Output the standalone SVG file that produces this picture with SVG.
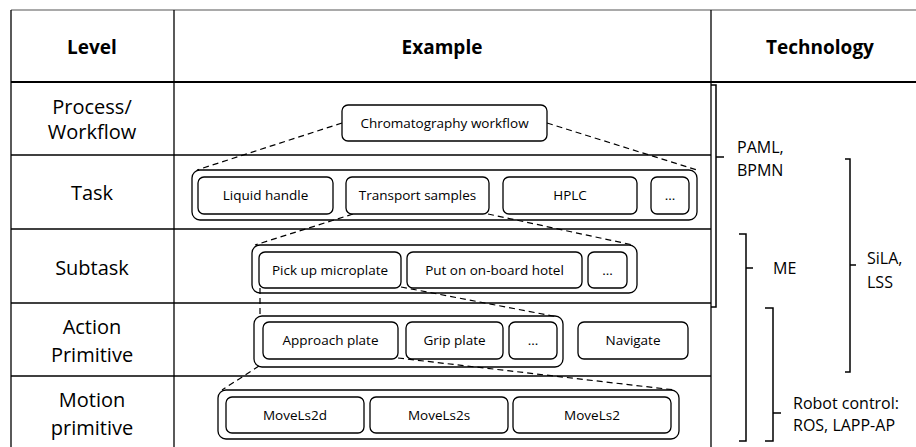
<svg xmlns="http://www.w3.org/2000/svg" width="916" height="447" viewBox="0 0 916 447">
<style>
  .grid { stroke: #000; stroke-width: 1.3; fill: none; }
  .box { fill: #fff; stroke: #000; stroke-width: 1.3; }
  .outer { fill: none; stroke: #000; stroke-width: 1.3; }
  .dash { stroke: #000; stroke-width: 1.2; stroke-dasharray: 6 4; fill: none; }
  .brace { stroke: #000; stroke-width: 1.5; fill: none; }
  .hdr { font-family: "Open Sans", "Liberation Sans", sans-serif; font-weight: bold; font-size: 19px; text-anchor: middle; fill: #000; }
  .lvl { font-family: "Open Sans", "Liberation Sans", sans-serif; font-size: 20px; text-anchor: middle; fill: #000; }
  .bt { font-family: "Open Sans", "Liberation Sans", sans-serif; font-size: 13.5px; text-anchor: middle; fill: #000; }
  .tech { font-family: "Open Sans", "Liberation Sans", sans-serif; font-size: 16px; fill: #000; }
</style>
<rect width="916" height="447" fill="#fff"/>
<g id="table">
  <line x1="11" y1="10" x2="916" y2="10" stroke="#555" stroke-width="1.2"/>
  <line class="grid" x1="11" y1="10" x2="11" y2="447"/>
  <line class="grid" x1="174" y1="10" x2="174" y2="447"/>
  <line class="grid" x1="711" y1="10" x2="711" y2="447"/>
  <line x1="11" y1="82" x2="916" y2="82" stroke="#000" stroke-width="2.2"/>
  <line class="grid" x1="11" y1="155" x2="711" y2="155"/>
  <line class="grid" x1="11" y1="229" x2="711" y2="229"/>
  <line class="grid" x1="11" y1="303" x2="711" y2="303"/>
  <line class="grid" x1="11" y1="376" x2="711" y2="376"/>
  <text class="hdr" x="92" y="54">Level</text>
  <text class="hdr" x="442" y="54">Example</text>
  <text class="hdr" x="820" y="54">Technology</text>
  <text class="lvl" x="92" y="114">Process/</text>
  <text class="lvl" x="92" y="139">Workflow</text>
  <text class="lvl" x="92" y="200">Task</text>
  <text class="lvl" x="92" y="275">Subtask</text>
  <text class="lvl" x="92" y="334">Action</text>
  <text class="lvl" x="92" y="362">Primitive</text>
  <text class="lvl" x="92" y="407">Motion</text>
  <text class="lvl" x="92" y="435">primitive</text>
</g>
<g id="connectors">
  <line class="dash" x1="342" y1="123" x2="197" y2="170"/>
  <line class="dash" x1="547" y1="123" x2="697" y2="170"/>
  <line class="dash" x1="353" y1="214" x2="255" y2="245"/>
  <line class="dash" x1="488" y1="214" x2="633" y2="245"/>
  <line class="dash" x1="260" y1="288" x2="260" y2="316"/>
  <line class="dash" x1="401" y1="287" x2="558" y2="317"/>
  <line class="dash" x1="259" y1="366" x2="222" y2="390"/>
  <line class="dash" x1="398" y1="358" x2="675" y2="390"/>
</g>
<g id="chromatography-workflow">
  <rect class="box" x="342" y="105" width="205" height="36" rx="6"/>
  <text class="bt" x="444.5" y="128">Chromatography workflow</text>
</g>
<g id="task-group">
  <rect class="outer" x="192" y="170" width="505" height="50" rx="8"/>
</g>
<g id="liquid-handle">
  <rect class="box" x="198" y="177" width="135" height="37" rx="6"/>
  <text class="bt" x="265.5" y="200">Liquid handle</text>
</g>
<g id="transport-samples">
  <rect class="box" x="346" y="177" width="143" height="37" rx="6"/>
  <text class="bt" x="417.5" y="200">Transport samples</text>
</g>
<g id="hplc">
  <rect class="box" x="503" y="177" width="134" height="37" rx="6"/>
  <text class="bt" x="570" y="200">HPLC</text>
</g>
<g id="task-more">
  <rect class="box" x="651" y="177" width="38" height="37" rx="6"/>
  <text class="bt" x="670" y="200">...</text>
</g>
<g id="subtask-group">
  <rect class="outer" x="252" y="245" width="385" height="48" rx="8"/>
</g>
<g id="pick-up-microplate">
  <rect class="box" x="259" y="252" width="142" height="36" rx="6"/>
  <text class="bt" x="330" y="275">Pick up microplate</text>
</g>
<g id="put-on-hotel">
  <rect class="box" x="407" y="252" width="175" height="36" rx="6"/>
  <text class="bt" x="494.5" y="275">Put on on-board hotel</text>
</g>
<g id="subtask-more">
  <rect class="box" x="588" y="252" width="39" height="36" rx="6"/>
  <text class="bt" x="607.5" y="275">...</text>
</g>
<g id="action-group">
  <rect class="outer" x="254" y="316" width="309" height="51" rx="8"/>
</g>
<g id="approach-plate">
  <rect class="box" x="263" y="322" width="135" height="37" rx="6"/>
  <text class="bt" x="330.5" y="345">Approach plate</text>
</g>
<g id="grip-plate">
  <rect class="box" x="406" y="322" width="97" height="37" rx="6"/>
  <text class="bt" x="454.5" y="345">Grip plate</text>
</g>
<g id="action-more">
  <rect class="box" x="509" y="322" width="48" height="37" rx="6"/>
  <text class="bt" x="533" y="345">...</text>
</g>
<g id="navigate">
  <rect class="box" x="578" y="322" width="110" height="37" rx="6"/>
  <text class="bt" x="633" y="345">Navigate</text>
</g>
<g id="motion-group">
  <rect class="outer" x="218" y="390" width="461" height="49" rx="8"/>
</g>
<g id="movels2d">
  <rect class="box" x="226" y="397" width="138" height="36" rx="6"/>
  <text class="bt" x="295" y="420">MoveLs2d</text>
</g>
<g id="movels2s">
  <rect class="box" x="370" y="397" width="138" height="36" rx="6"/>
  <text class="bt" x="439" y="420">MoveLs2s</text>
</g>
<g id="movels2">
  <rect class="box" x="513" y="397" width="158" height="36" rx="6"/>
  <text class="bt" x="592" y="420">MoveLs2</text>
</g>
<g id="tech-paml">
  <path class="brace" d="M711,85 H716 V307 H711 M716,157 H724"/>
  <text class="tech" x="737" y="153">PAML,</text>
  <text class="tech" x="737" y="176">BPMN</text>
</g>
<g id="tech-sila">
  <path class="brace" d="M845,159 H850 V372 H845 M850,265 H856"/>
  <text class="tech" x="867" y="264">SiLA,</text>
  <text class="tech" x="867" y="288">LSS</text>
</g>
<g id="tech-me">
  <path class="brace" d="M739,234 H746 V441 H739 M746,268 H753"/>
  <text class="tech" x="773" y="274">ME</text>
</g>
<g id="tech-robot">
  <path class="brace" d="M765,308 H773 V441 H765 M773,413 H781"/>
  <text class="tech" x="793" y="409">Robot control:</text>
  <text class="tech" x="793" y="431">ROS, LAPP-AP</text>
</g>
</svg>
